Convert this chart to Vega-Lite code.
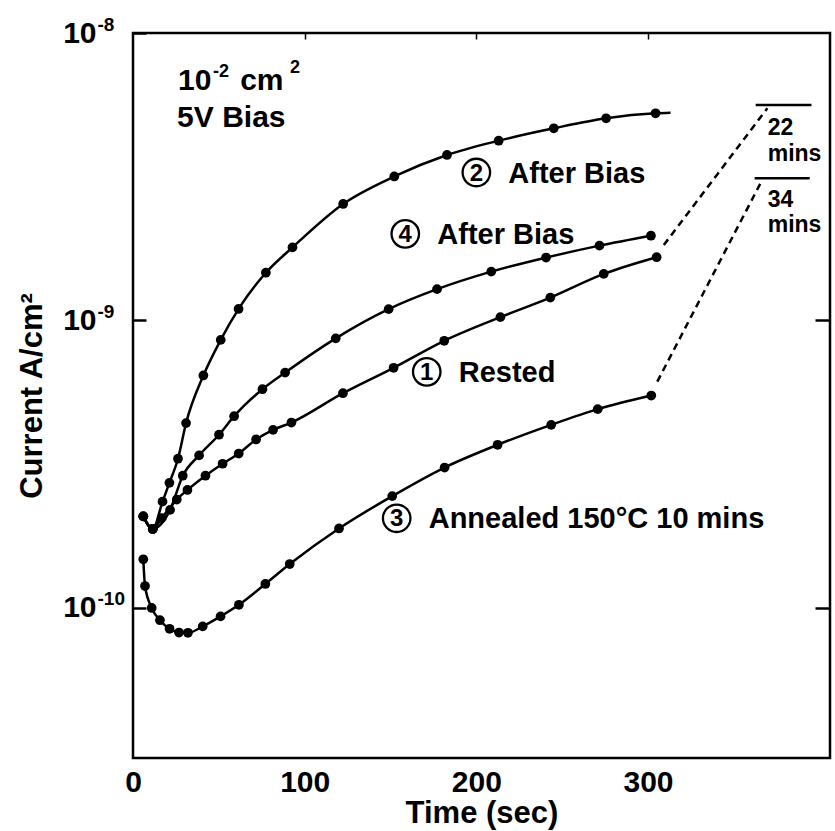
{
  "$schema": "https://vega.github.io/schema/vega-lite/v6.json",
  "width": 697,
  "height": 725,
  "autosize": {"type": "none"},
  "padding": {"left": 133, "top": 33, "right": 5, "bottom": 73},
  "background": "white",
  "config": {
    "view": {"stroke": "black", "strokeWidth": 2.5},
    "font": "Liberation Sans",
    "axis": {"labelFont": "Liberation Sans", "titleFont": "Liberation Sans", "labelColor": "black", "titleColor": "black", "tickColor": "black", "grid": false, "domain": false}
  },
  "datasets": {
    "curves": [
      {"s": "2", "x": 6.0, "y": 2.08e-10, "m": 1},
      {"s": "2", "x": 11.5, "y": 1.88e-10, "m": 1},
      {"s": "2", "x": 17.2, "y": 2.34e-10, "m": 1},
      {"s": "2", "x": 21.2, "y": 2.72e-10, "m": 1},
      {"s": "2", "x": 26.2, "y": 3.30e-10, "m": 1},
      {"s": "2", "x": 30.9, "y": 4.39e-10, "m": 1},
      {"s": "2", "x": 41.0, "y": 6.43e-10, "m": 1},
      {"s": "2", "x": 51.1, "y": 8.55e-10, "m": 1},
      {"s": "2", "x": 61.5, "y": 1.096e-9, "m": 1},
      {"s": "2", "x": 77.4, "y": 1.465e-9, "m": 1},
      {"s": "2", "x": 92.9, "y": 1.794e-9, "m": 1},
      {"s": "2", "x": 122.4, "y": 2.542e-9, "m": 1},
      {"s": "2", "x": 152.2, "y": 3.168e-9, "m": 1},
      {"s": "2", "x": 182.9, "y": 3.763e-9, "m": 1},
      {"s": "2", "x": 213.0, "y": 4.219e-9, "m": 1},
      {"s": "2", "x": 245.1, "y": 4.66e-9, "m": 1},
      {"s": "2", "x": 275.6, "y": 5.05e-9, "m": 1},
      {"s": "2", "x": 304.4, "y": 5.256e-9, "m": 1},
      {"s": "2", "x": 313.1, "y": 5.28e-9, "m": 0},
      {"s": "4", "x": 6.0, "y": 2.08e-10, "m": 1},
      {"s": "4", "x": 11.5, "y": 1.88e-10, "m": 1},
      {"s": "4", "x": 21.6, "y": 2.19e-10, "m": 1},
      {"s": "4", "x": 29.0, "y": 2.88e-10, "m": 1},
      {"s": "4", "x": 38.5, "y": 3.39e-10, "m": 1},
      {"s": "4", "x": 50.1, "y": 4.0e-10, "m": 1},
      {"s": "4", "x": 58.9, "y": 4.64e-10, "m": 1},
      {"s": "4", "x": 75.4, "y": 5.76e-10, "m": 1},
      {"s": "4", "x": 88.6, "y": 6.58e-10, "m": 1},
      {"s": "4", "x": 118.1, "y": 8.66e-10, "m": 1},
      {"s": "4", "x": 148.9, "y": 1.094e-9, "m": 1},
      {"s": "4", "x": 177.1, "y": 1.284e-9, "m": 1},
      {"s": "4", "x": 208.7, "y": 1.478e-9, "m": 1},
      {"s": "4", "x": 240.6, "y": 1.654e-9, "m": 1},
      {"s": "4", "x": 271.7, "y": 1.82e-9, "m": 1},
      {"s": "4", "x": 301.7, "y": 1.971e-9, "m": 1},
      {"s": "1", "x": 6.0, "y": 2.08e-10, "m": 1},
      {"s": "1", "x": 11.5, "y": 1.88e-10, "m": 1},
      {"s": "1", "x": 16.7, "y": 2.05e-10, "m": 1},
      {"s": "1", "x": 25.5, "y": 2.38e-10, "m": 1},
      {"s": "1", "x": 31.7, "y": 2.57e-10, "m": 1},
      {"s": "1", "x": 42.2, "y": 2.88e-10, "m": 1},
      {"s": "1", "x": 52.2, "y": 3.17e-10, "m": 1},
      {"s": "1", "x": 61.6, "y": 3.44e-10, "m": 1},
      {"s": "1", "x": 71.7, "y": 3.85e-10, "m": 1},
      {"s": "1", "x": 81.6, "y": 4.16e-10, "m": 1},
      {"s": "1", "x": 92.3, "y": 4.41e-10, "m": 1},
      {"s": "1", "x": 122.3, "y": 5.58e-10, "m": 1},
      {"s": "1", "x": 151.8, "y": 6.84e-10, "m": 1},
      {"s": "1", "x": 181.3, "y": 8.49e-10, "m": 1},
      {"s": "1", "x": 214.0, "y": 1.026e-9, "m": 1},
      {"s": "1", "x": 243.1, "y": 1.2e-9, "m": 1},
      {"s": "1", "x": 274.2, "y": 1.451e-9, "m": 1},
      {"s": "1", "x": 305.0, "y": 1.659e-9, "m": 1},
      {"s": "3", "x": 6.0, "y": 1.474e-10, "m": 1},
      {"s": "3", "x": 7.0, "y": 1.19e-10, "m": 1},
      {"s": "3", "x": 10.9, "y": 9.98e-11, "m": 1},
      {"s": "3", "x": 15.7, "y": 9.05e-11, "m": 1},
      {"s": "3", "x": 21.3, "y": 8.45e-11, "m": 1},
      {"s": "3", "x": 26.8, "y": 8.2e-11, "m": 1},
      {"s": "3", "x": 32.0, "y": 8.18e-11, "m": 1},
      {"s": "3", "x": 40.6, "y": 8.61e-11, "m": 1},
      {"s": "3", "x": 51.0, "y": 9.33e-11, "m": 1},
      {"s": "3", "x": 61.7, "y": 1.024e-10, "m": 1},
      {"s": "3", "x": 77.1, "y": 1.21e-10, "m": 1},
      {"s": "3", "x": 91.3, "y": 1.419e-10, "m": 1},
      {"s": "3", "x": 120.0, "y": 1.887e-10, "m": 1},
      {"s": "3", "x": 151.0, "y": 2.446e-10, "m": 1},
      {"s": "3", "x": 181.5, "y": 3.076e-10, "m": 1},
      {"s": "3", "x": 212.4, "y": 3.69e-10, "m": 1},
      {"s": "3", "x": 243.6, "y": 4.33e-10, "m": 1},
      {"s": "3", "x": 270.7, "y": 4.91e-10, "m": 1},
      {"s": "3", "x": 301.9, "y": 5.475e-10, "m": 1}
    ],
    "dashes": [
      {"seg": "a", "x": 309.2, "y": 1.83e-9},
      {"seg": "a", "x": 369.5, "y": 5.47e-9},
      {"seg": "b", "x": 305.4, "y": 6.12e-10},
      {"seg": "b", "x": 366.0, "y": 3.04e-9}
    ],
    "bars": [
      {"seg": "22", "x": 362.7, "y": 5.617e-9},
      {"seg": "22", "x": 395.2, "y": 5.617e-9},
      {"seg": "34", "x": 362.1, "y": 3.124e-9},
      {"seg": "34", "x": 394.2, "y": 3.124e-9}
    ],
    "bigtext": [
      {"t": "10", "x": 26.2, "y": 6.33e-9},
      {"t": "cm", "x": 62.4, "y": 6.33e-9},
      {"t": "5V Bias", "x": 25.7, "y": 4.71e-9}
    ],
    "suptext": [
      {"t": "-2", "x": 46.6, "y": 7.03e-9},
      {"t": "2", "x": 91.5, "y": 7.26e-9}
    ],
    "smalltext": [
      {"t": "22", "x": 369.7, "y": 4.417e-9},
      {"t": "mins", "x": 369.7, "y": 3.6e-9},
      {"t": "34", "x": 369.7, "y": 2.482e-9},
      {"t": "mins", "x": 369.7, "y": 2.03e-9}
    ],
    "circled": [
      {"n": "2", "label": "After Bias", "x": 200.0, "y": 3.27e-9},
      {"n": "4", "label": "After Bias", "x": 158.6, "y": 2.0e-9},
      {"n": "1", "label": "Rested", "x": 171.1, "y": 6.62e-10},
      {"n": "3", "label": "Annealed 150°C 10 mins", "x": 153.6, "y": 2.048e-10}
    ]
  },
  "resolve": {"axis": {"x": "independent", "y": "independent"}},
  "layer": [
    {
      "data": {"name": "curves"},
      "mark": {"type": "line", "interpolate": "monotone", "color": "black", "strokeWidth": 2.5},
      "encoding": {
        "x": {"field": "x", "type": "quantitative",
          "scale": {"domain": [0, 406], "nice": false, "zero": false},
          "axis": {"orient": "bottom", "values": [0, 100, 200, 300], "format": "d", "ticks": false,
            "labelFontSize": 30, "labelFontWeight": "bold", "labelPadding": 9, "labelFlush": false,
            "title": "Time (sec)", "titleFontSize": 31, "titleFontWeight": "bold", "titlePadding": 1}},
        "y": {"field": "y", "type": "quantitative",
          "scale": {"type": "log", "domain": [3e-11, 1e-8], "nice": false},
          "axis": {"orient": "left", "values": [1e-8, 1e-9, 1e-10],
            "labelExpr": "'10'",
            "tickSize": -13, "tickWidth": 2.5, "labelPadding": 50, "labelFontSize": 30, "labelFontWeight": "bold",
            "labelFlush": false, "labelOverlap": false,
            "title": "Current A/cm²", "titleFontSize": 31, "titleFontWeight": "bold", "titlePadding": 14}},
        "detail": {"field": "s"}
      }
    },
    {
      "data": {"name": "curves"},
      "transform": [{"filter": "datum.m == 1"}],
      "mark": {"type": "point", "shape": "circle", "filled": true, "color": "black", "size": 95, "opacity": 1},
      "encoding": {
        "x": {"field": "x", "type": "quantitative",
          "axis": {"orient": "top", "values": [100, 200, 300], "labels": false, "tickSize": -6, "tickWidth": 1.5, "title": null}},
        "y": {"field": "y", "type": "quantitative",
          "axis": {"orient": "right", "values": [1e-9, 1e-10], "labels": false, "tickSize": -15, "tickWidth": 2.5, "title": null}}
      }
    },
    {
      "data": {"name": "dashes"},
      "mark": {"type": "line", "color": "black", "strokeWidth": 2.5, "strokeDash": [7, 5]},
      "encoding": {
        "x": {"field": "x", "type": "quantitative", "axis": null},
        "y": {"field": "y", "type": "quantitative",
          "axis": {"orient": "left", "values": [1e-8, 1e-9, 1e-10],
            "labelExpr": "datum.value > 5e-9 ? '-8' : datum.value > 5e-10 ? '-9' : '-10'",
            "ticks": false, "tickSize": 0, "labelAlign": "left", "labelPadding": 36, "labelOffset": -9,
            "labelFontSize": 19, "labelFontWeight": "bold", "labelFlush": false, "labelOverlap": false, "title": null}},
        "detail": {"field": "seg"}
      }
    },
    {
      "data": {"name": "bars"},
      "mark": {"type": "line", "color": "black", "strokeWidth": 2.5},
      "encoding": {
        "x": {"field": "x", "type": "quantitative", "axis": null},
        "y": {"field": "y", "type": "quantitative", "axis": null},
        "detail": {"field": "seg"}
      }
    },
    {
      "data": {"name": "bigtext"},
      "mark": {"type": "text", "font": "Liberation Sans", "fontWeight": "bold", "fontSize": 30, "align": "left", "baseline": "alphabetic", "color": "black"},
      "encoding": {
        "x": {"field": "x", "type": "quantitative", "axis": null},
        "y": {"field": "y", "type": "quantitative", "axis": null},
        "text": {"field": "t"}
      }
    },
    {
      "data": {"name": "suptext"},
      "mark": {"type": "text", "font": "Liberation Sans", "fontWeight": "bold", "fontSize": 18, "align": "left", "baseline": "alphabetic", "color": "black"},
      "encoding": {
        "x": {"field": "x", "type": "quantitative", "axis": null},
        "y": {"field": "y", "type": "quantitative", "axis": null},
        "text": {"field": "t"}
      }
    },
    {
      "data": {"name": "smalltext"},
      "mark": {"type": "text", "font": "Liberation Sans", "fontWeight": "bold", "fontSize": 23, "align": "left", "baseline": "alphabetic", "color": "black"},
      "encoding": {
        "x": {"field": "x", "type": "quantitative", "axis": null},
        "y": {"field": "y", "type": "quantitative", "axis": null},
        "text": {"field": "t"}
      }
    },
    {
      "data": {"name": "circled"},
      "mark": {"type": "point", "shape": "circle", "filled": false, "color": "black", "strokeWidth": 2.3, "size": 755, "opacity": 1},
      "encoding": {
        "x": {"field": "x", "type": "quantitative", "axis": null},
        "y": {"field": "y", "type": "quantitative", "axis": null}
      }
    },
    {
      "data": {"name": "circled"},
      "mark": {"type": "text", "font": "Liberation Sans", "fontWeight": "bold", "fontSize": 24, "align": "center", "baseline": "middle", "dy": 1, "color": "black"},
      "encoding": {
        "x": {"field": "x", "type": "quantitative", "axis": null},
        "y": {"field": "y", "type": "quantitative", "axis": null},
        "text": {"field": "n"}
      }
    },
    {
      "data": {"name": "circled"},
      "mark": {"type": "text", "font": "Liberation Sans", "fontWeight": "bold", "fontSize": 29, "align": "left", "baseline": "middle", "dx": 32, "dy": 1, "color": "black"},
      "encoding": {
        "x": {"field": "x", "type": "quantitative", "axis": null},
        "y": {"field": "y", "type": "quantitative", "axis": null},
        "text": {"field": "label"}
      }
    }
  ]
}
